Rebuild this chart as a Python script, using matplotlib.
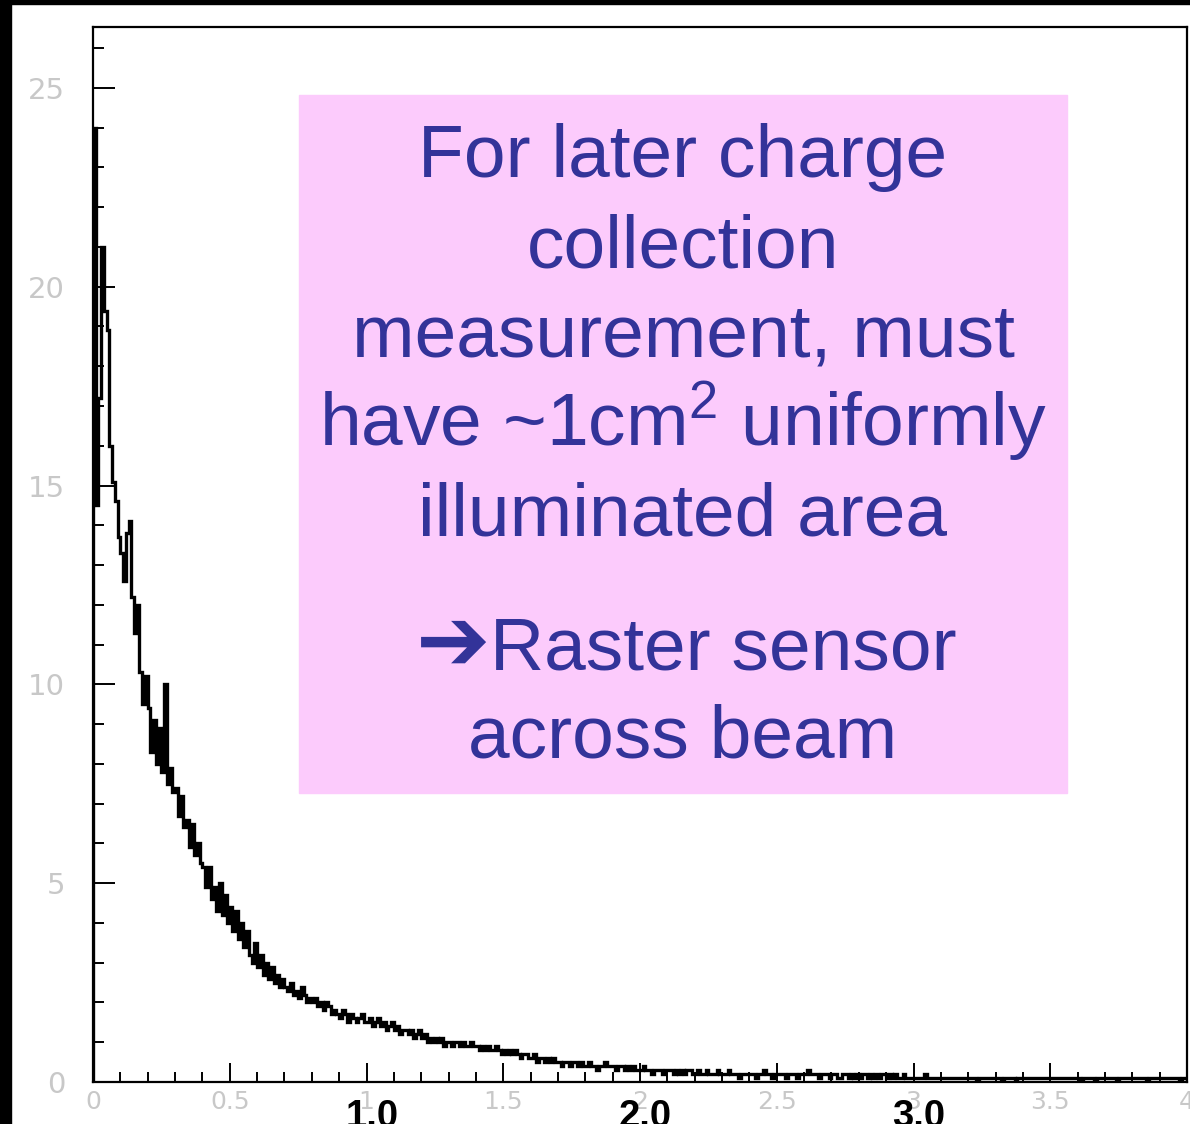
import numpy as np
import matplotlib.pyplot as plt
from matplotlib.patches import Rectangle

# histogram contents, bins of 0.01 from 0 to 4
counts = [
    24.0, 14.5, 17.2, 21.0, 19.4, 18.9, 16.0, 15.1, 14.6, 13.7,
    13.3, 12.6, 13.8, 14.1, 12.2, 11.3, 12.0, 10.3, 9.5, 10.2,
    9.4, 8.3, 9.1, 8.0, 8.9, 7.8, 10.0, 7.5, 7.9, 7.3,
    7.4, 6.7, 7.2, 6.4, 6.6, 5.9, 6.5, 5.7, 6.0, 5.5,
    5.4, 4.9, 5.4, 4.6, 4.9, 4.3, 5.0, 4.2, 4.7, 4.0,
    4.4, 3.8, 4.3, 3.6, 4.0, 3.4, 3.8, 3.2, 3.0, 3.5,
    2.9, 3.2, 2.7, 3.0, 2.6, 2.9, 2.5, 2.7, 2.4, 2.6,
    2.4, 2.3, 2.5, 2.2, 2.3, 2.1, 2.4, 2.2, 2.0, 2.1,
    2.0, 2.1, 1.9, 2.0, 1.8, 2.0, 1.9, 1.7, 1.8, 1.7,
    1.6, 1.8, 1.7, 1.5, 1.7, 1.6, 1.5, 1.6, 1.7, 1.5,
    1.5, 1.6, 1.4, 1.5, 1.6, 1.4, 1.5, 1.3, 1.4, 1.5,
    1.3, 1.4, 1.2, 1.3, 1.3, 1.2, 1.3, 1.1, 1.2, 1.3,
    1.1, 1.2, 1.0, 1.1, 1.0, 1.1, 1.0, 1.1, 0.9, 1.0,
    1.0, 0.9, 1.0, 1.0, 0.9, 1.0, 0.9, 0.9, 1.0, 0.9,
    0.9, 0.8, 0.9, 0.8, 0.9, 0.8, 0.8, 0.9, 0.8, 0.7,
    0.8, 0.7, 0.8, 0.7, 0.8, 0.7, 0.6, 0.7, 0.7, 0.6,
    0.6, 0.7, 0.5, 0.6, 0.6, 0.5, 0.6, 0.5, 0.6, 0.5,
    0.5, 0.4, 0.5, 0.5, 0.4, 0.5, 0.5, 0.4, 0.5, 0.4,
    0.4, 0.5, 0.4, 0.4, 0.3, 0.4, 0.4, 0.5, 0.4, 0.4,
    0.4, 0.3, 0.4, 0.4, 0.3, 0.4, 0.3, 0.4, 0.3, 0.3,
    0.3, 0.4, 0.3, 0.3, 0.2, 0.3, 0.3, 0.3, 0.2, 0.3,
    0.3, 0.3, 0.2, 0.3, 0.2, 0.3, 0.2, 0.3, 0.3, 0.2,
    0.2, 0.3, 0.2, 0.2, 0.3, 0.2, 0.2, 0.2, 0.3, 0.2,
    0.2, 0.2, 0.3, 0.2, 0.2, 0.2, 0.1, 0.2, 0.2, 0.2,
    0.2, 0.2, 0.1, 0.2, 0.2, 0.3, 0.2, 0.2, 0.1, 0.2,
    0.2, 0.2, 0.2, 0.1, 0.2, 0.2, 0.2, 0.1, 0.2, 0.2,
    0.2, 0.3, 0.2, 0.2, 0.2, 0.1, 0.2, 0.2, 0.2, 0.1,
    0.2, 0.2, 0.1, 0.1, 0.2, 0.2, 0.1, 0.2, 0.1, 0.2,
    0.1, 0.2, 0.2, 0.1, 0.2, 0.1, 0.2, 0.1, 0.2, 0.2,
    0.1, 0.2, 0.1, 0.2, 0.1, 0.1, 0.2, 0.1, 0.1, 0.1,
    0.1, 0.1, 0.1, 0.1, 0.2, 0.1, 0.1, 0.1, 0.1, 0.1,
    0.1, 0.1, 0.1, 0.1, 0.1, 0.1, 0.1, 0.1, 0.1, 0.1,
    0.1, 0.1, 0.1, 0.0, 0.1, 0.1, 0.1, 0.1, 0.1, 0.1,
    0.1, 0.1, 0.0, 0.1, 0.1, 0.1, 0.1, 0.0, 0.1, 0.1,
    0.1, 0.1, 0.1, 0.1, 0.1, 0.1, 0.1, 0.1, 0.1, 0.1,
    0.1, 0.1, 0.1, 0.1, 0.1, 0.1, 0.1, 0.1, 0.1, 0.1,
    0.1, 0.0, 0.1, 0.1, 0.1, 0.1, 0.0, 0.1, 0.1, 0.1,
    0.1, 0.1, 0.1, 0.1, 0.0, 0.1, 0.1, 0.1, 0.1, 0.1,
    0.1, 0.1, 0.1, 0.1, 0.1, 0.0, 0.1, 0.1, 0.1, 0.1,
    0.1, 0.1, 0.1, 0.1, 0.1, 0.1, 0.1, 0.0, 0.1, 0.1,
]

x_ticks = [0, 0.5, 1, 1.5, 2, 2.5, 3, 3.5, 4]
x_ticklabels = ["0", "0.5", "1", "1.5", "2", "2.5", "3", "3.5", "4"]
y_ticks = [0, 5, 10, 15, 20, 25]
bold_pos = [1.0, 2.0, 3.0]
bold_labels = ["1.0", "2.0", "3.0"]

box_lines = ["For later charge", "collection", "measurement, must",
             "have ~1cm$^{\\mathregular{2}}$ uniformly", "illuminated area"]
arrow_line = "Raster sensor"
last_line = "across beam"

plt.rcParams['mathtext.default'] = 'regular'

W, H = 1190, 1124
fig = plt.figure(figsize=(W/100, H/100), dpi=100)
fig.patch.set_facecolor('white')

# black frame bits of the slide (top and left edge)
fig.patches.append(Rectangle((0, 1 - 4/H), 1, 4/H, transform=fig.transFigure, color='black'))
fig.patches.append(Rectangle((0, 0), 11/W, 1, transform=fig.transFigure, color='black'))

ax = fig.add_axes([93/W, (H-1082)/H, 1094/W, 1055/H])
edges = np.linspace(0, 4, len(counts) + 1)
ax.stairs(counts, edges, color='black', lw=2.4)

ax.set_xlim(0, 4)
ax.set_ylim(0, 26.53)
for s in ax.spines.values():
    s.set_linewidth(1.6)
ax.set_xticks(x_ticks)
ax.set_xticklabels(x_ticklabels)
ax.set_xticks(np.arange(0, 4.0, 0.1), minor=True)
ax.set_yticks(y_ticks)
ax.set_yticks(np.arange(0, 27, 1), minor=True)
ax.tick_params(axis='x', which='major', direction='in', length=14, width=1.4,
               labelsize=18, labelcolor='#c8c8c8', pad=6)
ax.tick_params(axis='x', which='minor', direction='in', length=7, width=1.4)
ax.tick_params(axis='y', which='major', direction='in', length=16, width=1.4,
               labelsize=21, labelcolor='#c8c8c8', pad=20)
ax.tick_params(axis='y', which='minor', direction='in', length=8, width=1.4)

# big bold labels drawn over the axis
for p, t in zip(bold_pos, bold_labels):
    ax.text(p + 0.02, -0.0427, t, transform=ax.get_xaxis_transform(), ha='center',
            va='baseline', fontsize=27.5, fontweight='bold', family='Liberation Sans',
            color='black', clip_on=False)

# pink text box
fig.patches.append(Rectangle((299/W, (H-793)/H), 768/W, 698/H, transform=fig.transFigure,
                             color='#fccbfc', zorder=5))
txt = dict(fontsize=54, color='#333399', family=['Liberation Sans', 'DejaVu Sans'], zorder=6)
baselines = [177, 267, 357, 446, 535]
for t, yb in zip(box_lines, baselines):
    fig.text(683/W, (H-yb)/H, t, ha='center', va='baseline', **txt)

fig.text(490/W, (H-670)/H, "\u2794", ha='right', va='baseline', fontsize=64,
         color='#333399', family='DejaVu Sans', fontweight='bold', zorder=6)
fig.text(490/W, (H-670)/H, arrow_line, ha='left', va='baseline', **txt)
fig.text(683/W, (H-758)/H, last_line, ha='center', va='baseline', **txt)

plt.savefig("out.png", dpi=100)
